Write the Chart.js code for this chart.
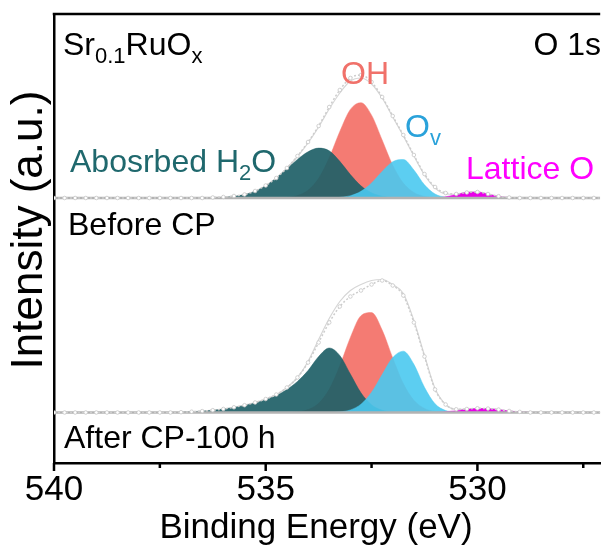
<!DOCTYPE html>
<html>
<head>
<meta charset="utf-8">
<script src="https://cdn.jsdelivr.net/npm/chart.js@4.4.1/dist/chart.umd.min.js"></script>
<style>
    html, body { margin: 0; padding: 0; background: #fff; }
    #graficaXps { display: block; }
</style>
</head>
<body>
<canvas id="graficaXps" width="605" height="550"></canvas>
<script>
// energías (eV) de las componentes ajustadas
const peakEnergy = [537, 536.75, 536.5, 536.25, 536, 535.75, 535.5, 535.25, 535, 534.75,
    534.5, 534.25, 534, 533.75, 533.5, 533.25, 533, 532.75, 532.5, 532.25,
    532, 531.75, 531.5, 531.25, 531, 530.75, 530.5, 530.25, 530, 529.75,
    529.5, 529.25, 529, 528.75, 528.5];

// energías de los datos experimentales (todo el rango)
const rawEnergy = [540, 539.75, 539.5, 539.25, 539, 538.75, 538.5, 538.25, 538, 537.75, 537.5, 537.25,
    537, 536.75, 536.5, 536.25, 536, 535.75, 535.5, 535.25, 535, 534.75,
    534.5, 534.25, 534, 533.75, 533.5, 533.25, 533, 532.75, 532.5, 532.25,
    532, 531.75, 531.5, 531.25, 531, 530.75, 530.5, 530.25, 530, 529.75,
    529.5, 529.25, 529, 528.75, 528.5, 528.25, 528, 527.75, 527.5, 527.25, 527];

const tickEnergies = [540, 537.5, 535, 532.5, 530, 527.5];
const X_MAX = 540;
const X_MIN = 527.1;
const Y_MAX = 449;

// desplazamiento vertical de cada espectro
const offsetBefore = 265;
const offsetAfter = 50.5;

// Before CP
const h2oBefore = [0, 0, 0, 0.2, 0.6, 1.5, 3.4, 6.8, 12.2, 19.9, 29.2, 38.6, 46.2, 49.9, 47.2, 36.7, 23.4, 12.2, 5.2, 1.8,
    0.5, 0.1, 0, 0, 0, 0, 0, 0, 0, 0, 0, 0, 0, 0, 0];
const ohBefore = [0, 0, 0, 0, 0, 0, 0, 0, 0, 0, 0.6, 2.5, 7.8, 19.7, 40.3, 66.5, 88.6, 95.3, 82.8, 58.0,
    32.8, 14.9, 5.5, 1.6, 0.4, 0, 0, 0, 0, 0, 0, 0, 0, 0, 0];
const ovBefore = [0, 0, 0, 0, 0, 0, 0, 0, 0, 0, 0, 0, 0, 0, 0, 0.6, 2.3, 6.7, 15.0, 26.5,
    36.3, 38.5, 28.0, 13.2, 4.0, 0.8, 0.1, 0, 0, 0, 0, 0, 0, 0, 0];
const latBefore = [0, 0, 0, 0, 0, 0, 0, 0, 0, 0, 0, 0, 0, 0, 0, 0, 0, 0, 0, 0,
    0, 0, 0, 0, 0, 1.2, 3.4, 5.8, 6.0, 4.0, 1.6, 0.4, 0, 0, 0];
const fitBefore = [0, 0, 0, 0.3, 0.8, 1.8, 3.4, 6.8, 12.3, 20, 30, 41.5, 55, 71, 89, 105, 117, 120, 114, 100,
    81, 62, 42, 23, 10, 4, 3.6, 5.6, 6, 4, 1.6, 0.4, 0, 0, 0];
const rawBefore = [0, 0, 0, 0, 0, 0, 0, 0, 0, 0, 0, 0,
    0, 0, 0, 0.5, 1, 2, 3.5, 7, 12.5, 20, 30, 42, 56, 72, 91, 108, 120, 123, 116, 101,
    82, 63, 43, 24, 11, 5, 4, 5.5, 6, 4, 1.8, 0.5, 0, 0, 0,
    0, 0, 0, 0, 0, 0];

// After CP-100 h
const h2oAfter = [0.3, 0.7, 1.3, 2.2, 3.4, 5.0, 7.0, 9.5, 12.8, 17, 23, 31, 42, 56, 64.5, 57, 38.4, 19.7, 7.7, 2.3,
    0.5, 0, 0, 0, 0, 0, 0, 0, 0, 0, 0, 0, 0, 0, 0];
const ohAfter = [0, 0, 0, 0, 0, 0, 0, 0, 0, 0, 0, 0.7, 2.9, 9.2, 23.2, 46.7, 75.1, 96.8, 99.9, 82.5,
    54.5, 28.9, 12.2, 4.1, 1.1, 0.2, 0, 0, 0, 0, 0, 0, 0, 0, 0];
const ovAfter = [0, 0, 0, 0, 0, 0, 0, 0, 0, 0, 0, 0, 0, 0, 0, 0.6, 2.6, 8.3, 20.2, 37.9,
    54.9, 61.3, 48.2, 25.2, 8.7, 2.0, 0.3, 0, 0, 0, 0, 0, 0, 0, 0];
const latAfter = [0, 0, 0, 0, 0, 0, 0, 0, 0, 0, 0, 0, 0, 0, 0, 0, 0, 0, 0, 0,
    0, 0, 0, 0, 0, 0.8, 1.8, 3.2, 4.0, 3.9, 2.9, 1.5, 0.6, 0.1, 0];
const fitAfter = [0.3, 0.8, 1.4, 2.3, 3.5, 5.2, 7.3, 10, 13.5, 18, 25, 35, 51, 73, 94, 111, 122, 128, 132, 133,
    128, 119, 92, 57, 24, 8, 3.2, 3.4, 4, 3.9, 2.9, 1.5, 0.6, 0, 0];
const rawAfter = [0, 0, 0, 0, 0, 0, 0, 0, 0, 0, 0, 0,
    0.3, 0.8, 1.4, 2.3, 3.5, 5.2, 7.3, 10, 13.5, 18, 25, 35, 50, 70, 90, 106, 116, 122, 128, 132,
    127, 117, 90, 56, 23, 8, 3.2, 3.5, 4.2, 3.9, 2.9, 1.5, 0.6, 0, 0,
    0, 0, 0, 0, 0, 0];

const FUENTE = '"Liberation Sans", Arial, sans-serif';
const COLOR_H2O = 'rgba(30, 96, 103, 0.92)';
const COLOR_OH = '#f47b73';
const COLOR_OV = 'rgba(74, 201, 240, 0.9)';
const COLOR_LAT = '#e800e8';

function serie(energias, valores, base) {
    return energias.map((e, i) => ({ x: e, y: base + valores[i] }));
}

function pico(label, valores, base, color, orden) {
    return {
        label,
        data: serie(peakEnergy, valores, base),
        borderColor: color,
        borderWidth: 0.5,
        backgroundColor: color,
        fill: { value: base },
        pointRadius: 0,
        cubicInterpolationMode: 'monotone',
        order: orden
    };
}

function ajuste(label, valores, base) {
    return {
        label,
        data: serie(peakEnergy, valores, base),
        borderColor: '#d6d6d6',
        borderWidth: 1.2,
        fill: false,
        pointRadius: 0,
        cubicInterpolationMode: 'monotone',
        order: 7
    };
}

function experimental(label, valores, base) {
    return {
        label,
        data: serie(rawEnergy, valores, base),
        borderColor: '#cdcdcd',
        borderWidth: 1.5,
        borderDash: [2, 2],
        fill: false,
        pointRadius: 1.8,
        pointBorderWidth: 0.8,
        pointBorderColor: '#c6c6c6',
        pointBackgroundColor: '#ffffff',
        cubicInterpolationMode: 'monotone',
        order: 0
    };
}

function lineaBase(label, base) {
    return {
        label,
        data: [{ x: X_MAX, y: base }, { x: X_MIN, y: base }],
        borderColor: '#b3b3b3',
        borderWidth: 2.5,
        fill: false,
        pointRadius: 0,
        order: 1
    };
}

// textos con subíndices: [texto, esSubindice]
const etiquetas = [
    { partes: [['Sr', 0], ['0.1', 1], ['RuO', 0], ['x', 1]], x: 63, y: 55, color: '#000' },
    { partes: [['O 1s', 0]], x: 601, y: 55, color: '#000', derecha: true },
    { partes: [['OH', 0]], x: 341, y: 84, color: '#f0716a' },
    { partes: [['O', 0], ['v', 1]], x: 405, y: 137, color: '#2aa2da' },
    { partes: [['Abosrbed H', 0], ['2', 1], ['O', 0]], x: 70, y: 172, color: '#1f686d' },
    { partes: [['Lattice O', 0]], x: 466, y: 179, color: '#ff00ff' },
    { partes: [['Before CP', 0]], x: 68, y: 235, color: '#000' },
    { partes: [['After CP-100 h', 0]], x: 64, y: 448, color: '#000' }
];

function dibujarTexto(ctx, et) {
    const tam = 32, tamSub = 22;
    ctx.textBaseline = 'alphabetic';
    ctx.textAlign = 'left';
    let ancho = 0;
    et.partes.forEach(([t, sub]) => {
        ctx.font = `${sub ? tamSub : tam}px ${FUENTE}`;
        ancho += ctx.measureText(t).width;
    });
    let x = et.derecha ? et.x - ancho : et.x;
    ctx.fillStyle = et.color;
    et.partes.forEach(([t, sub]) => {
        ctx.font = `${sub ? tamSub : tam}px ${FUENTE}`;
        ctx.fillText(t, x, sub ? et.y + 8 : et.y);
        x += ctx.measureText(t).width;
    });
}

const decoracion = {
    id: 'decoracion',
    afterDraw(chart) {
        const { ctx, chartArea, scales } = chart;
        ctx.save();
        ctx.strokeStyle = '#000';
        ctx.lineWidth = 2.5;
        ctx.beginPath();
        ctx.moveTo(chartArea.left - 1.25, chartArea.top);
        ctx.lineTo(chartArea.right, chartArea.top);
        ctx.stroke();

        tickEnergies.forEach(v => {
            const px = scales.x.getPixelForValue(v);
            const largo = v % 5 === 0 ? 8 : 5;
            ctx.beginPath();
            ctx.moveTo(px, chartArea.bottom);
            ctx.lineTo(px, chartArea.bottom + largo);
            ctx.stroke();
        });

        ctx.fillStyle = '#000';
        ctx.font = `35px ${FUENTE}`;
        ctx.textAlign = 'center';
        ctx.textBaseline = 'alphabetic';
        ctx.fillText('Binding Energy (eV)', 316, 538);

        ctx.save();
        ctx.translate(30, 230);
        ctx.rotate(-Math.PI / 2);
        ctx.font = `44px ${FUENTE}`;
        ctx.textBaseline = 'middle';
        ctx.fillText('Intensity (a.u.)', 0, 0);
        ctx.restore();

        etiquetas.forEach(et => dibujarTexto(ctx, et));
        ctx.restore();
    }
};

new Chart(document.getElementById('graficaXps'), {
    type: 'line',
    data: {
        datasets: [
            experimental('Before CP', rawBefore, offsetBefore),
            experimental('After CP-100 h', rawAfter, offsetAfter),
            lineaBase('base before', offsetBefore),
            lineaBase('base after', offsetAfter),
            pico('Lattice O', latBefore, offsetBefore, COLOR_LAT, 2),
            pico('Lattice O', latAfter, offsetAfter, COLOR_LAT, 2),
            pico('Ov', ovBefore, offsetBefore, COLOR_OV, 3),
            pico('Ov', ovAfter, offsetAfter, COLOR_OV, 3),
            pico('Abosrbed H2O', h2oBefore, offsetBefore, COLOR_H2O, 4),
            pico('Abosrbed H2O', h2oAfter, offsetAfter, COLOR_H2O, 4),
            pico('OH', ohBefore, offsetBefore, COLOR_OH, 5),
            pico('OH', ohAfter, offsetAfter, COLOR_OH, 5),
            ajuste('fit before', fitBefore, offsetBefore),
            ajuste('fit after', fitAfter, offsetAfter)
        ]
    },
    options: {
        responsive: false,
        animation: false,
        devicePixelRatio: 1,
        layout: { padding: { top: 14, right: 0, bottom: 0, left: 0 } },
        plugins: {
            legend: { display: false },
            tooltip: { enabled: false }
        },
        scales: {
            x: {
                type: 'linear',
                reverse: true,
                min: X_MIN,
                max: X_MAX,
                afterBuildTicks: (scale) => { scale.ticks = tickEnergies.map(v => ({ value: v })); },
                afterFit: (scale) => { scale.height = 87; },
                grid: { display: false, drawTicks: false },
                border: { display: true, color: '#000', width: 2.5 },
                ticks: {
                    autoSkip: false,
                    maxRotation: 0,
                    padding: 6,
                    color: '#000',
                    font: { family: FUENTE, size: 35 },
                    callback: (v) => (v % 5 === 0 ? String(v) : '')
                }
            },
            y: {
                min: 0,
                max: Y_MAX,
                afterFit: (scale) => { scale.width = 54; },
                grid: { display: false, drawTicks: false },
                border: { display: true, color: '#000', width: 2.5 },
                ticks: { display: false }
            }
        }
    },
    plugins: [decoracion]
});
</script>
</body>
</html>
